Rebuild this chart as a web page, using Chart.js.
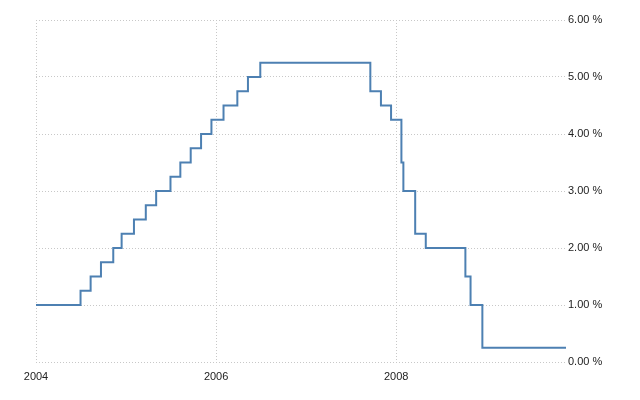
<!DOCTYPE html>
<html>
<head>
<meta charset="utf-8">
<script src="https://cdn.jsdelivr.net/npm/chart.js@4/dist/chart.umd.min.js"></script>
<style>
html,body{margin:0;padding:0;background:#fff;}
#wrap{width:640px;height:400px;position:relative;}
</style>
</head>
<body>
<div id="wrap"><canvas id="c" width="640" height="400"></canvas></div>
<script>
// Change dates and the rate (%) in effect from each date
const dates = ["2004-01-01","2004-06-30","2004-08-10","2004-09-21","2004-11-10","2004-12-14",
  "2005-02-02","2005-03-22","2005-05-03","2005-06-30","2005-08-09","2005-09-20","2005-11-01","2005-12-13",
  "2006-01-31","2006-03-28","2006-05-10","2006-06-29",
  "2007-09-18","2007-10-31","2007-12-11",
  "2008-01-22","2008-01-30","2008-03-18","2008-04-30","2008-10-08","2008-10-29","2008-12-16",
  "2009-11-20"];
const rates = [1.00,1.25,1.50,1.75,2.00,2.25,
  2.50,2.75,3.00,3.25,3.50,3.75,4.00,4.25,
  4.50,4.75,5.00,5.25,
  4.75,4.50,4.25,
  3.50,3.00,2.25,2.00,1.50,1.00,0.25,
  0.25];
const xTickYears = [2004, 2006, 2008];
const yTicks = [0,1,2,3,4,5,6];

function toYear(s){
  const d = new Date(s + "T00:00:00Z");
  const y = d.getUTCFullYear();
  const start = Date.UTC(y,0,1), end = Date.UTC(y+1,0,1);
  return y + (d.getTime()-start)/(end-start);
}
const pts = dates.map((d,i)=>({x: toYear(d), y: rates[i]}));

const gridCol = '#c8c8c8';
new Chart(document.getElementById('c'), {
  type: 'line',
  data: { datasets: [{
    data: pts,
    stepped: true,
    borderColor: '#4d80b2',
    borderWidth: 2,
    pointRadius: 0,
    fill: false
  }]},
  options: {
    responsive: false,
    animation: false,
    layout: { padding: { left: 36, top: 20, right: 0, bottom: 0 } },
    plugins: { legend: {display:false}, tooltip:{enabled:false} },
    scales: {
      x: {
        type: 'linear',
        min: 2004,
        max: pts[pts.length-1].x,
        afterBuildTicks: s => { s.ticks = xTickYears.map(v=>({value:v})); },
        afterFit: s => { s.height = 38; },
        grid: { color: gridCol, drawTicks:false, lineWidth:1 },
        border: { display:false, dash:[1,2] },
        ticks: { padding: 8, color:'#222', font:{family:'Liberation Sans', size:11}, maxRotation:0,
          callback: v => String(v) }
      },
      y: {
        position: 'right',
        min: 0, max: 6,
        afterBuildTicks: s => { s.ticks = yTicks.map(v=>({value:v})); },
        afterFit: s => { s.width = 74; },
        grid: { color: gridCol, drawTicks:false, lineWidth:1 },
        border: { display:false, dash:[1,2] },
        ticks: { padding: 2, color:'#222', font:{family:'Liberation Sans', size:11},
          callback: v => v.toFixed(2) + ' %' }
      }
    }
  }
});
</script>
</body>
</html>
